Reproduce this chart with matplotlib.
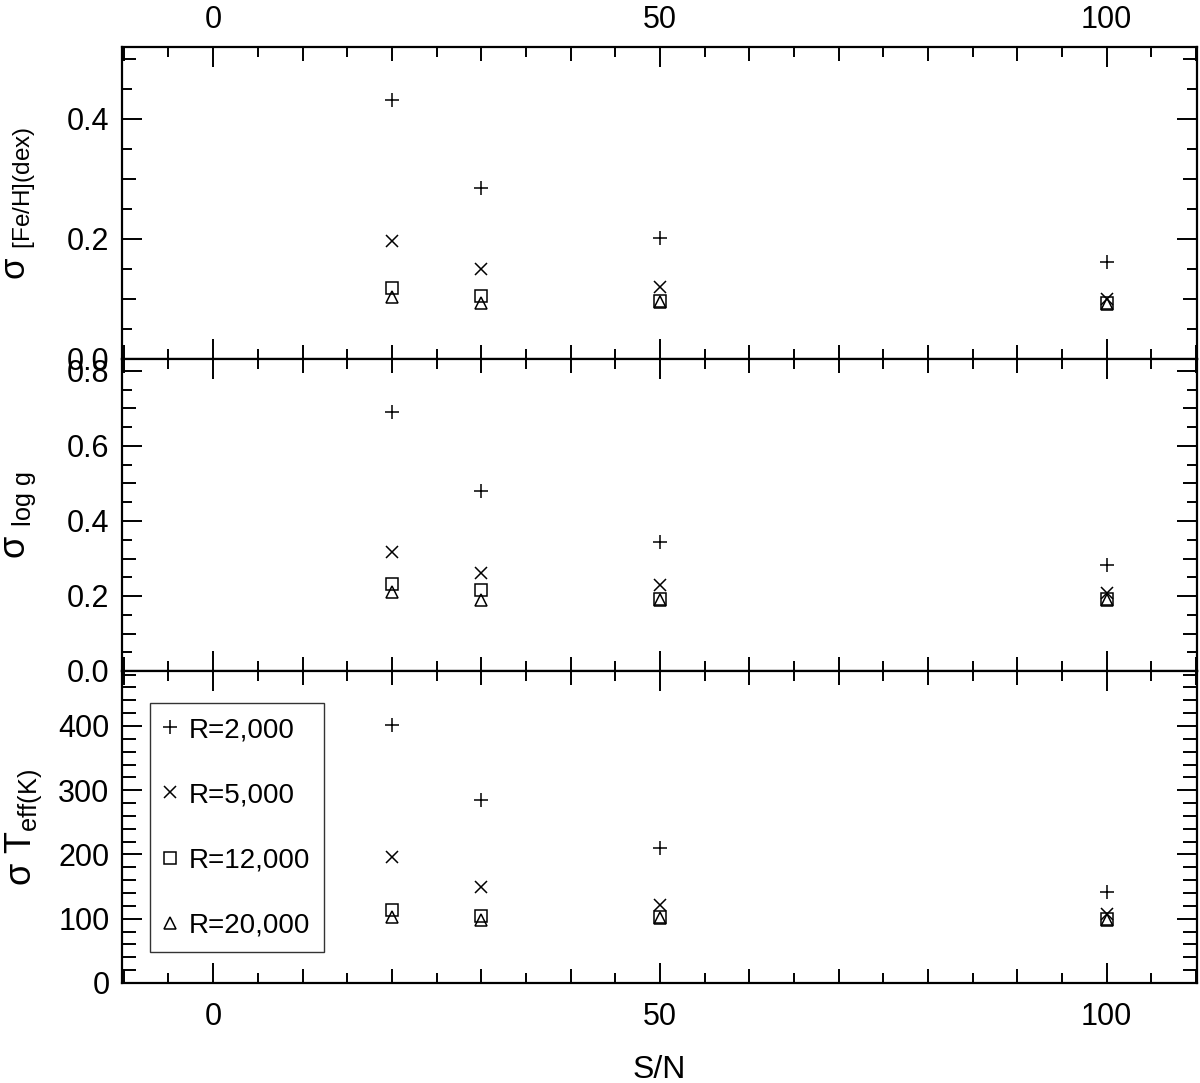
import matplotlib
matplotlib.use("Agg")
import matplotlib.pyplot as plt
from matplotlib.ticker import MultipleLocator, FuncFormatter

plt.rcParams['font.family'] = ['Liberation Sans', 'DejaVu Sans']
plt.rcParams['mathtext.fontset'] = 'custom'
plt.rcParams['mathtext.rm'] = 'Liberation Sans'
plt.rcParams['mathtext.it'] = 'Liberation Sans:italic'

# S/N values
snr = [20, 30, 50, 100]
labels = ['R=2,000', 'R=5,000', 'R=12,000', 'R=20,000']
markers = ['+', 'x', 's', '^']
msizes = [10, 8, 8, 9]

# sigma [Fe/H] (dex)
feh_r2000 = [0.432, 0.285, 0.202, 0.162]
feh_r5000 = [0.197, 0.150, 0.120, 0.100]
feh_r12000 = [0.118, 0.105, 0.097, 0.093]
feh_r20000 = [0.103, 0.093, 0.095, 0.092]

# sigma log g
logg_r2000 = [0.691, 0.480, 0.344, 0.283]
logg_r5000 = [0.317, 0.261, 0.229, 0.207]
logg_r12000 = [0.232, 0.216, 0.192, 0.192]
logg_r20000 = [0.211, 0.189, 0.189, 0.189]

# sigma Teff (K)
teff_r2000 = [402, 285, 210, 142]
teff_r5000 = [196, 149, 121, 107]
teff_r12000 = [114, 104, 103, 100]
teff_r20000 = [103, 98, 101, 98]

W, H = 1200, 1083
fig = plt.figure(figsize=(W / 100, H / 100), dpi=100)

left = 122 / W
width = (1197 - 122) / W
panels = [(47, 359), (359, 671), (671, 983)]
axes = []
for top, bot in panels:
    ax = fig.add_axes([left, 1 - bot / H, width, (bot - top) / H])
    axes.append(ax)

data = [
    [feh_r2000, feh_r5000, feh_r12000, feh_r20000],
    [logg_r2000, logg_r5000, logg_r12000, logg_r20000],
    [teff_r2000, teff_r5000, teff_r12000, teff_r20000],
]
ylims = [(0, 0.52), (0, 0.832), (0, 485.6)]
ylabels = ['σ $_{\\mathrm{[Fe/H](dex)}}$',
           'σ $_{\\mathrm{log\\ g}}$',
           'σ T$_{\\mathrm{eff(K)}}$']
ylabel_sizes = [25, 26, 26]
ylabel_x = [-0.078, -0.078, -0.073]


def fmt_every(step, decimals):
    def f(v, p):
        if abs(round(v / step) * step - v) < 1e-6:
            return f'{v:.{decimals}f}'
        return ''
    return FuncFormatter(f)


def lengthen(axis, step):
    locs = axis.get_majorticklocs()
    ticks = axis.get_major_ticks(len(locs))
    for loc, t in zip(locs, ticks):
        if abs(round(loc / step) * step - loc) < 1e-6:
            t.tick1line.set_markersize(14.4)
            t.tick2line.set_markersize(14.4)


for i, ax in enumerate(axes):
    for series, m, ms, lab in zip(data[i], markers, msizes, labels):
        ax.plot(snr, series, ls='none', marker=m, ms=ms, mfc='none',
                mec='black', mew=1.1, label=lab)
    ax.set_xlim(-10.2, 110.1)
    ax.set_ylim(*ylims[i])
    for s in ax.spines.values():
        s.set_linewidth(1.6)
    ax.xaxis.set_major_locator(MultipleLocator(10))
    ax.xaxis.set_minor_locator(MultipleLocator(5))
    ax.xaxis.set_major_formatter(fmt_every(50, 0))
    if i < 2:
        ax.yaxis.set_major_locator(MultipleLocator(0.1))
        ax.yaxis.set_minor_locator(MultipleLocator(0.05))
        ax.yaxis.set_major_formatter(fmt_every(0.2, 1))
        ymaj_len = 10
    else:
        ax.yaxis.set_major_locator(MultipleLocator(100))
        ax.yaxis.set_minor_locator(MultipleLocator(20))
        ymaj_len = 14.4
    ax.tick_params(which='both', direction='in', top=True, right=True,
                   width=1.4, labelsize=22)
    ax.tick_params(axis='x', which='major', length=10, pad=14)
    ax.tick_params(axis='x', which='minor', length=7)
    ax.tick_params(axis='y', which='major', length=ymaj_len, pad=9)
    ax.tick_params(axis='y', which='minor', length=7 if i < 2 else 10)
    if i == 0:
        ax.tick_params(axis='x', labeltop=True, labelbottom=False, pad=9)
    elif i == 1:
        ax.tick_params(axis='x', labeltop=False, labelbottom=False)
    ax.set_ylabel(ylabels[i], fontsize=ylabel_sizes[i])
    ax.yaxis.set_label_coords(ylabel_x[i], 0.5)
    lengthen(ax.xaxis, 50)
    if i < 2:
        lengthen(ax.yaxis, 0.2)

axes[2].set_xlabel('S/N', fontsize=23)
axes[2].xaxis.set_label_coords(0.5, -0.23)

leg = axes[2].legend(loc='upper left', bbox_to_anchor=(0.026, 0.897),
                     fontsize=20, numpoints=1, labelspacing=1.41,
                     handlelength=0.45, handletextpad=0.45, borderpad=0.5,
                     fancybox=False, borderaxespad=0, edgecolor='black')
leg.get_frame().set_linewidth(1.0)

fig.savefig('out.png', dpi=100)
